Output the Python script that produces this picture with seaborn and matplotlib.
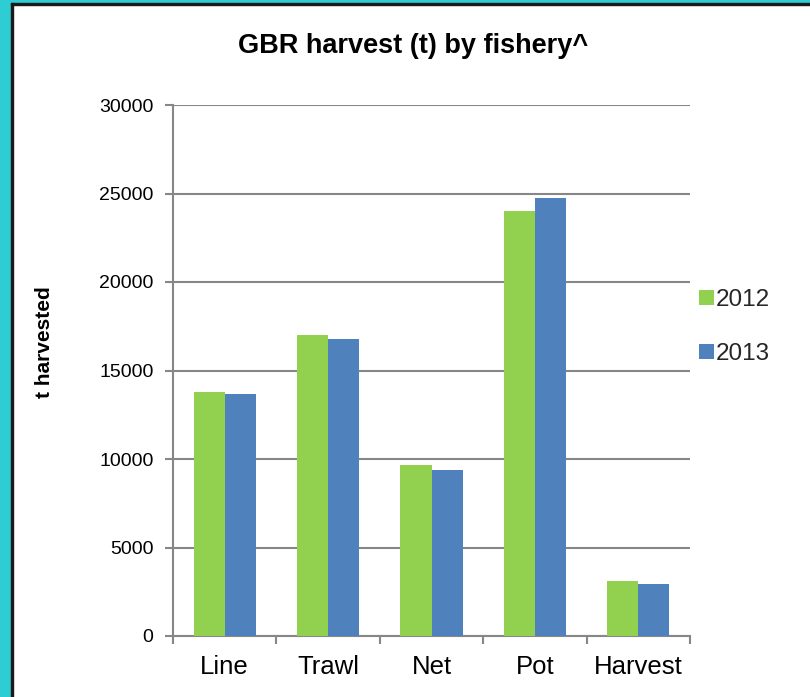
import matplotlib
matplotlib.use("Agg")
import matplotlib.pyplot as plt
from matplotlib.patches import Rectangle
import pandas as pd
import seaborn as sns

fisheries = ["Line", "Trawl", "Net", "Pot", "Harvest"]
years = ["2012", "2013"]
harvest_2012 = [13800, 17000, 9650, 24000, 3100]
harvest_2013 = [13700, 16800, 9380, 24750, 2930]
y_ticks = [0, 5000, 10000, 15000, 20000, 25000, 30000]

df = pd.DataFrame({
    "fishery": fisheries * 2,
    "year": [years[0]] * len(fisheries) + [years[1]] * len(fisheries),
    "tonnes": harvest_2012 + harvest_2013,
})

sns.set_theme(style="white")
plt.rcParams["font.family"] = ["Liberation Sans", "DejaVu Sans"]

W, H = 810, 697
fig = plt.figure(figsize=(W / 100, H / 100), dpi=100)
fig.patch.set_facecolor("white")
ax = fig.add_axes([173 / W, 1 - 636 / H, (690 - 173) / W, (636 - 105) / H])

palette = {"2012": "#92D050", "2013": "#4F81BD"}
sns.barplot(data=df, x="fishery", y="tonnes", hue="year", order=fisheries,
            hue_order=years, palette=palette, width=0.6, saturation=1,
            edgecolor="none", linewidth=0, ax=ax, zorder=3)

grid_col = "#878787"
ax.set_ylim(0, 30000)
ax.set_xlim(-0.5, len(fisheries) - 0.5)
ax.set_yticks(y_ticks)
ax.set_yticklabels([str(v) for v in y_ticks], fontsize=14)
ax.yaxis.grid(True, color=grid_col, linewidth=1.5, zorder=0)
ax.xaxis.grid(False)
ax.set_axisbelow(True)

# category labels centred, tick marks on category boundaries
ax.tick_params(axis="x", which="major", length=0, labelsize=18.5, pad=14)
ax.set_xticks([i - 0.5 for i in range(len(fisheries) + 1)], minor=True)
ax.tick_params(axis="x", which="minor", length=6, width=1.5, color=grid_col,
               direction="out", bottom=True)
ax.tick_params(axis="y", length=6, width=1.5, color=grid_col, direction="out",
               left=True, pad=8)
for lbl in ax.get_xticklabels():
    lbl.set_color("black")
for lbl in ax.get_yticklabels():
    lbl.set_color("black")

for side in ["top", "right"]:
    ax.spines[side].set_visible(False)
for side in ["left", "bottom"]:
    ax.spines[side].set_color(grid_col)
    ax.spines[side].set_linewidth(1.5)

ax.set_xlabel("")
ax.set_ylabel("")
fig.text(45 / W, 1 - 342 / H, "t harvested", rotation=90, ha="center",
         va="center", fontsize=15, fontweight="bold", color="black")

fig.text(413 / W, 1 - 46 / H, "GBR harvest (t) by fishery^", ha="center",
         va="center", fontsize=19.5, fontweight="bold", color="black")

handles, labels = ax.get_legend_handles_labels()
ax.legend(handles, labels, loc="center left",
          bbox_to_anchor=(699 / W, 1 - 327 / H), bbox_transform=fig.transFigure,
          frameon=False, fontsize=17.5, handlelength=0.6, handleheight=0.6,
          handletextpad=0.1, labelspacing=1.3, borderaxespad=0,
          borderpad=0)

# frame along the left and top edges
tr = fig.transFigure
fig.patches.append(Rectangle((0, 0), 11 / W, 1, transform=tr,
                             color="#2ECCD3", zorder=10))
fig.patches.append(Rectangle((0, 1 - 3 / H), 1, 3 / H, transform=tr,
                             color="#2ECCD3", zorder=10))
fig.patches.append(Rectangle((11 / W, 0), 2 / W, 1 - 3 / H, transform=tr,
                             color="#1A1A1A", zorder=11))
fig.patches.append(Rectangle((11 / W, 1 - 5 / H), 1 - 11 / W, 2 / H,
                             transform=tr, color="#1A1A1A", zorder=11))

fig.savefig("out.png", dpi=100)
